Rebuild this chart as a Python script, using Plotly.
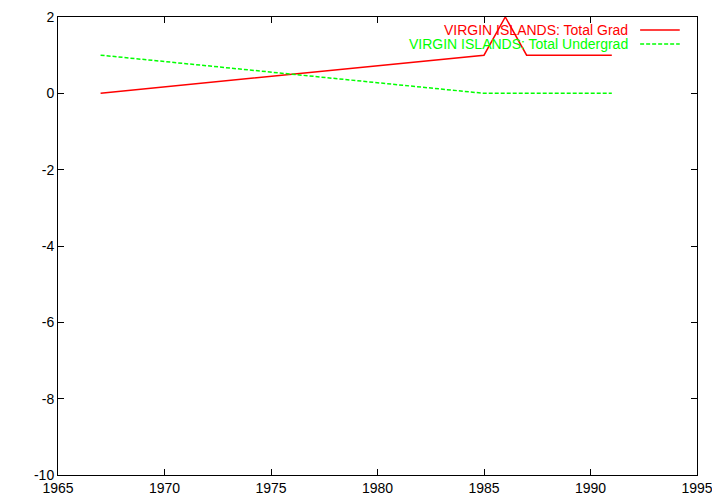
import plotly.graph_objects as go

grad_years = [1967, 1985, 1986, 1987, 1991]
grad_values = [0, 1, 2, 1, 1]
ug_years = [1967, 1985, 1991]
ug_values = [1, 0, 0]
names = ["VIRGIN ISLANDS: Total Grad", "VIRGIN ISLANDS: Total Undergrad"]
colors = ["#ff0000", "#00ff00"]
x_ticks = [1965, 1970, 1975, 1980, 1985, 1990, 1995]
y_ticks = [2, 0, -2, -4, -6, -8, -10]

FONT = "Liberation Sans, Arial"

fig = go.Figure()
fig.add_trace(go.Scatter(x=grad_years, y=grad_values, mode="lines", name=names[0],
                         line=dict(color=colors[0], width=1.5), showlegend=False))
fig.add_trace(go.Scatter(x=ug_years, y=ug_values, mode="lines", name=names[1],
                         line=dict(color=colors[1], width=1.5, dash="4px,2px"), showlegend=False))

# gnuplot-style legend: text right-aligned, sample line to the right
leg_y = [0.9716, 0.941]
dashes = ["solid", "4px,2px"]
for i in range(2):
    fig.add_annotation(xref="paper", yref="paper", x=0.895, y=leg_y[i], text=names[i],
                       showarrow=False, xanchor="right", yanchor="middle",
                       font=dict(color=colors[i], size=14, family=FONT))
    fig.add_shape(type="line", xref="paper", yref="paper", x0=0.911, x1=0.973,
                  y0=leg_y[i], y1=leg_y[i], line=dict(color=colors[i], width=1.5, dash=dashes[i]))

axis_common = dict(showgrid=False, zeroline=False, showline=True, linecolor="black",
                   linewidth=1, mirror="ticks", ticks="inside", ticklen=6, tickcolor="black",
                   automargin=False, ticklabeloverflow="allow",
                   tickfont=dict(size=14, color="black", family=FONT))
fig.update_xaxes(range=[1965, 1995], tickvals=x_ticks, ticktext=[str(v) for v in x_ticks], **axis_common)
fig.update_yaxes(range=[-10, 2], tickvals=y_ticks, ticktext=[str(v) for v in y_ticks], **axis_common)

fig.update_layout(width=704, height=488, margin=dict(l=50, r=15, t=9, b=21),
                  plot_bgcolor="white", paper_bgcolor="white",
                  font=dict(family=FONT, size=14))
fig.write_html("out.html")
